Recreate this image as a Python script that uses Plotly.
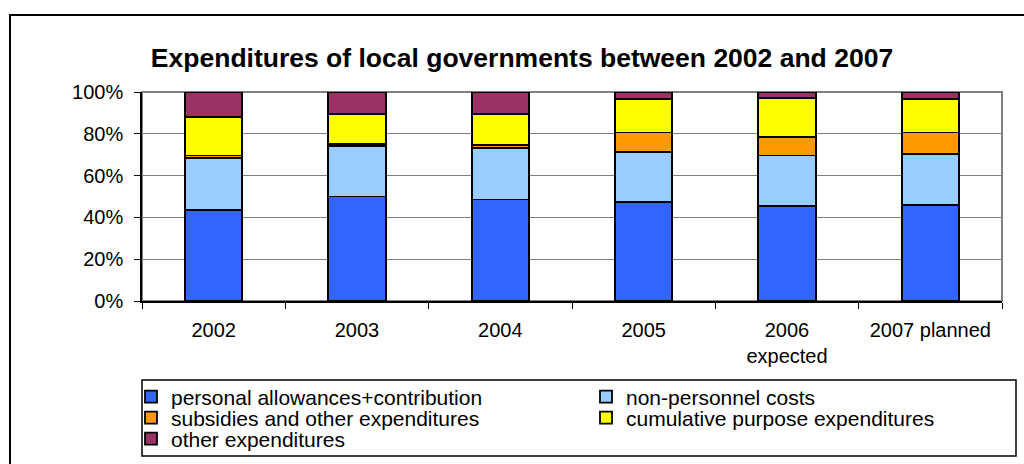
import plotly.graph_objects as go

# Budget years (x categories) and the share of each expenditure type (%)
years = ["2002", "2003", "2004", "2005", "2006<br>expected", "2007 planned"]

personal_allowances = [43.6, 50.0, 48.6, 47.4, 45.5, 45.8]
non_personnel_costs = [24.8, 24.2, 24.6, 23.8, 24.1, 24.6]
subsidies_other = [1.2, 1.1, 1.3, 9.4, 8.9, 10.2]
cumulative_purpose = [18.5, 14.3, 14.8, 15.9, 18.8, 15.9]
other_expenditures = [11.9, 10.4, 10.7, 3.5, 2.7, 3.5]

series_names = [
    "personal allowances+contribution",
    "non-personnel costs",
    "subsidies and other expenditures",
    "cumulative purpose expenditures",
    "other expenditures",
]
series_values = [
    personal_allowances,
    non_personnel_costs,
    subsidies_other,
    cumulative_purpose,
    other_expenditures,
]
series_colors = ["#3366FF", "#99CCFF", "#FF9900", "#FFFF00", "#993366"]

y_ticks = [0, 20, 40, 60, 80, 100]
y_tick_labels = [f"{v}%" for v in y_ticks]

FONT = "Liberation Sans, Arial, sans-serif"

# Page geometry (pixels)
W, H = 1024, 464
PLOT_L, PLOT_R, PLOT_T, PLOT_B = 142, 1002, 92, 301
PW, PH = PLOT_R - PLOT_L, PLOT_B - PLOT_T


def px_x(x):
    return (x - PLOT_L) / PW


def px_y(y):
    return (PLOT_B - y) / PH


# Legend grid: two columns, filled row by row; text start x and row centre y
legend_cols = [172, 627]
legend_rows = [397, 418, 439]
LEGEND_TEXT_OFFSET = 41

fig = go.Figure()
legend_layouts = {}
for i, (name, vals, color) in enumerate(zip(series_names, series_values, series_colors)):
    key = "legend" if i == 0 else f"legend{i + 1}"
    fig.add_trace(
        go.Bar(
            name=name,
            x=years,
            y=vals,
            marker=dict(color=color, line=dict(color="#000000", width=1.8)),
            width=0.4,
            legend=key,
            showlegend=True,
        )
    )
    col, row = i % 2, i // 2
    legend_layouts[key] = dict(
        xanchor="left",
        x=px_x(legend_cols[col] - LEGEND_TEXT_OFFSET),
        yanchor="middle",
        y=px_y(legend_rows[row]),
        font=dict(family=FONT, size=21, color="#000000"),
        bgcolor="rgba(0,0,0,0)",
        borderwidth=0,
    )

shapes = [
    # plot-area frame (grey)
    dict(type="rect", xref="paper", yref="paper", x0=0, x1=1, y0=0, y1=1,
         line=dict(color="#808080", width=2), layer="below"),
    # outer chart frame
    dict(type="rect", xref="paper", yref="paper",
         x0=px_x(10), x1=px_x(1040), y0=px_y(480), y1=px_y(15),
         line=dict(color="#000000", width=2)),
    # legend frame
    dict(type="rect", xref="paper", yref="paper",
         x0=px_x(142), x1=px_x(1016), y0=px_y(456), y1=px_y(380),
         line=dict(color="#000000", width=1.5)),
]

fig.update_layout(
    width=W,
    height=H,
    margin=dict(l=PLOT_L, r=W - PLOT_R, t=PLOT_T, b=H - PLOT_B, pad=0,
                autoexpand=False),
    showlegend=True,
    barmode="stack",
    barnorm="percent",
    paper_bgcolor="#FFFFFF",
    plot_bgcolor="#FFFFFF",
    font=dict(family=FONT, color="#000000", size=20),
    title=dict(
        text="<b>Expenditures of local governments between 2002 and 2007</b>",
        font=dict(family=FONT, size=26.5, color="#000000"),
        xref="paper",
        x=px_x(522),
        xanchor="center",
        yref="container",
        y=1 - 58 / H,
        yanchor="middle",
    ),
    xaxis=dict(
        type="category",
        showline=True,
        linecolor="#000000",
        linewidth=1.5,
        ticks="outside",
        tickson="boundaries",
        ticklen=6,
        tickcolor="#000000",
        tickfont=dict(size=20),
        ticklabelstandoff=10,
        showgrid=False,
    ),
    yaxis=dict(
        range=[0, 100],
        tickvals=y_ticks,
        ticktext=y_tick_labels,
        showline=True,
        linecolor="#000000",
        linewidth=1.5,
        ticks="outside",
        ticklen=6,
        tickcolor="#000000",
        tickfont=dict(size=20),
        ticklabelstandoff=7,
        showgrid=True,
        gridcolor="#808080",
        gridwidth=1,
        zeroline=False,
    ),
    shapes=shapes,
    **legend_layouts,
)

fig.write_html("out.html")
